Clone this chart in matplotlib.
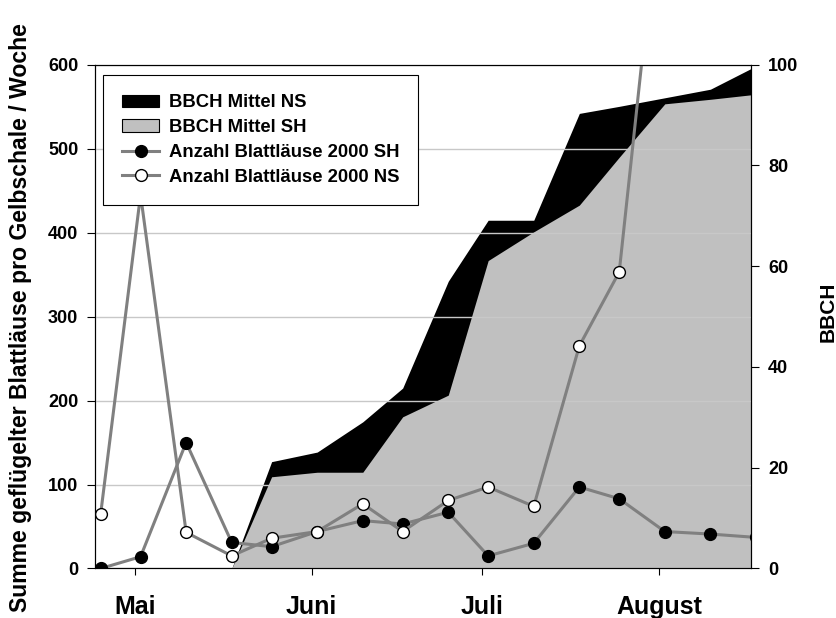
import matplotlib
matplotlib.use('Agg')
import matplotlib.pyplot as plt
from matplotlib.patches import Patch
from matplotlib.lines import Line2D
import pandas as pd

plt.rcParams['font.family'] = ['Liberation Sans', 'DejaVu Sans']
plt.rcParams['font.weight'] = 'bold'
plt.rcParams['axes.labelweight'] = 'bold'

# weekly yellow-pan samples, 2000
sample_dates = ['2000-04-25', '2000-05-02', '2000-05-10', '2000-05-18', '2000-05-25',
                '2000-06-02', '2000-06-10', '2000-06-17', '2000-06-25', '2000-07-02',
                '2000-07-10', '2000-07-18', '2000-07-25', '2000-08-02', '2000-08-10',
                '2000-08-18']
aphids_sh = [0, 14, 150, 31, 26, 44, 57, 53, 67, 15, 30, 97, 83, 44, 41, 37]
aphids_ns = [65, 445, 43, 15, 36, 44, 77, 44, 81, 97, 74, 265, 353, 858]
ns_dates = sample_dates[:len(aphids_ns)]

# BBCH growth stages (right axis)
bbch_dates = sample_dates[3:]
bbch_ns = [0, 21.2, 23.1, 29.1, 35.8, 57.0, 69.1, 69.1, 90.3, 91.7, 93.4, 95.1, 99.7]
bbch_sh = [0, 18.2, 19.1, 19.1, 30.1, 34.4, 61.1, 66.8, 72.1, 81.6, 92.2, 93.1, 94.1]

month_ticks = ['2000-05-01', '2000-06-01', '2000-07-01', '2000-08-01']
month_labels = ['Mai', 'Juni', 'Juli', 'August']

legend_labels = ['BBCH Mittel NS', 'BBCH Mittel SH',
                 'Anzahl Blattläuse 2000 SH', 'Anzahl Blattläuse 2000 NS']

LINE_GRAY = '#808080'
AREA_GRAY = '#c0c0c0'

fig = plt.figure(figsize=(8.36, 6.18), dpi=100)
ax = fig.add_axes([0.1136, 0.0801, 0.7853, 0.8155])
ax2 = ax.twinx()
# aphid lines on top of the BBCH areas
ax.set_zorder(ax2.get_zorder() + 1)
ax.patch.set_visible(False)

x_bbch = pd.to_datetime(bbch_dates)
ax2.fill_between(x_bbch, bbch_ns, color='black', lw=0)
ax2.fill_between(x_bbch, bbch_sh, color=AREA_GRAY, lw=0)

ax.plot(pd.to_datetime(sample_dates), aphids_sh, color=LINE_GRAY, lw=2.2,
        marker='o', ms=8.5, mfc='black', mec='black', mew=1)
ax.plot(pd.to_datetime(ns_dates), aphids_ns, color=LINE_GRAY, lw=2.2,
        marker='o', ms=8.5, mfc='white', mec='black', mew=1)

ax.set_xlim(pd.Timestamp('2000-04-24'), pd.Timestamp('2000-08-17 05:00'))
ax.set_ylim(0, 600)
ax2.set_ylim(0, 100)
ax.set_yticks(range(0, 601, 100))
ax2.set_yticks(range(0, 101, 20))
ax.set_xticks(pd.to_datetime(month_ticks))
ax.set_xticklabels(month_labels, fontsize=18)

ax.grid(axis='y', color='#c8c8c8', lw=1)
ax.grid(axis='x', visible=False)

ax.tick_params(axis='y', length=6, width=0.8, pad=6, labelsize=13)
ax.tick_params(axis='x', length=5, width=0.8, pad=14)
ax2.tick_params(axis='y', length=6, width=0.8, pad=6, labelsize=13)
for a in (ax, ax2):
    for s in a.spines.values():
        s.set_linewidth(0.8)

ax.set_ylabel('Summe geflügelter Blattläuse pro Gelbschale / Woche', fontsize=16.6)
ax.yaxis.set_label_coords(-0.114, 0.497)
ax.yaxis.label.set_va('center')
ax2.set_ylabel('BBCH', fontsize=15)
ax2.yaxis.set_label_coords(1.1165, 0.51)
ax2.yaxis.label.set_va('center')

handles = [
    Patch(facecolor='black', edgecolor='black', lw=0.8),
    Patch(facecolor=AREA_GRAY, edgecolor='black', lw=0.8),
    Line2D([], [], color=LINE_GRAY, lw=2.2, marker='o', ms=8.5, mfc='black', mec='black'),
    Line2D([], [], color=LINE_GRAY, lw=2.2, marker='o', ms=8.5, mfc='white', mec='black'),
]
leg = ax.legend(handles, legend_labels, loc='upper left', bbox_to_anchor=(0.0122, 0.979),
                borderaxespad=0, fontsize=13.3, fancybox=False, edgecolor='black',
                framealpha=1, handlelength=2.0, handletextpad=0.5,
                labelspacing=0.42, borderpad=1.05)
leg.get_frame().set_linewidth(0.8)

fig.savefig('out.png', dpi=100)
